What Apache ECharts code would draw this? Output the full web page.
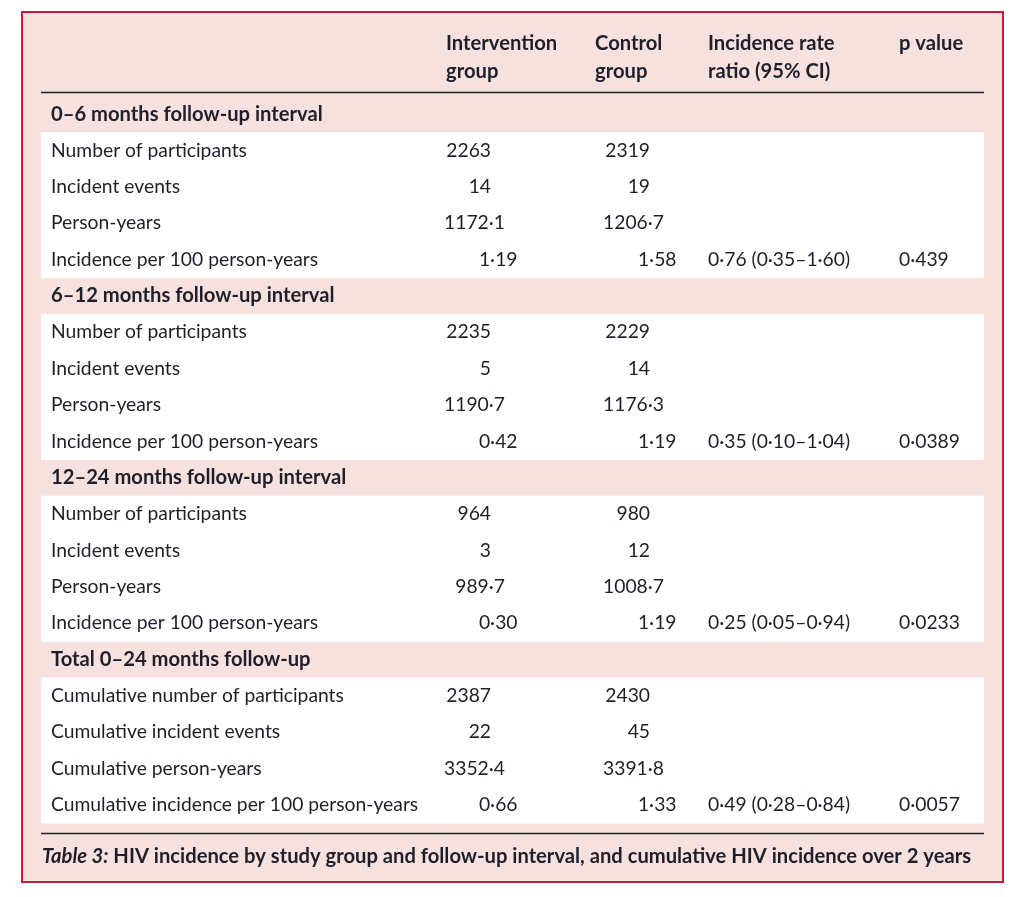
<!DOCTYPE html>
<html><head><meta charset="utf-8">
<script src="https://cdn.jsdelivr.net/npm/echarts@6/dist/echarts.min.js"></script>
<style>html,body{margin:0;padding:0;background:#fff}#c{width:1024px;height:897px}</style>
</head><body><div id="c"></div>
<script>
// ---- data ----
const headers = ["", "Intervention\ngroup", "Control\ngroup", "Incidence rate\nratio (95% CI)", "p value"];
const sections = ["0–6 months follow-up interval", "6–12 months follow-up interval", "12–24 months follow-up interval", "Total 0–24 months follow-up"];
const intervalLabels = ["Number of participants", "Incident events", "Person-years", "Incidence per 100 person-years"];
const totalLabels = ["Cumulative number of participants", "Cumulative incident events", "Cumulative person-years", "Cumulative incidence per 100 person-years"];
const intervention = ["2263", "14", "1172·1", "1·19", "2235", "5", "1190·7", "0·42", "964", "3", "989·7", "0·30", "2387", "22", "3352·4", "0·66"];
const control = ["2319", "19", "1206·7", "1·58", "2229", "14", "1176·3", "1·19", "980", "12", "1008·7", "1·19", "2430", "45", "3391·8", "1·33"];
const rateRatio = ["0·76 (0·35–1·60)", "0·35 (0·10–1·04)", "0·25 (0·05–0·94)", "0·49 (0·28–0·84)"];
const pValues = ["0·439", "0·0389", "0·0233", "0·0057"];
const captionLead = "Table 3:";
const captionText = " HIV incidence by study group and follow-up interval, and cumulative HIV incidence over 2 years";

// ---- build rows ----
const rows = [];
sections.forEach((s, si) => {
  rows.push({ label: s, section: true });
  const labs = si === 3 ? totalLabels : intervalLabels;
  labs.forEach((l, k) => {
    const idx = si * 4 + k;
    rows.push({ label: l, section: false, kind: k, iv: intervention[idx], ct: control[idx],
      rr: k === 3 ? rateRatio[si] : "", p: k === 3 ? pValues[si] : "" });
  });
});

// ---- layout ----
const TXT = '#1f1f2b';
const FONT = 'Lato';
const FS = 19.3;
const FSB = 20.2;
const COL = { label: 51, iv: 491, ct: 650, rr: 708, p: 899 };
const KIND_OFFSET = [0, 0, 14, 26.5];
const BAND_L = 41, BAND_R = 984;

const chart = echarts.init(document.getElementById('c'), null, { renderer: 'canvas' });
function txt(x, y, text, align, bold) {
  return { type: 'text', style: { x: x, y: y, text: text, textAlign: align, textVerticalAlign: 'middle',
    fontFamily: FONT, fontSize: bold ? FSB : FS, fontWeight: bold ? 'bold' : 'normal', fill: TXT } };
}
chart.setOption({
  animation: false,
  grid: { left: 0, right: 0, top: 96, height: 727, containLabel: false },
  xAxis: { type: 'value', min: 0, max: 1024, show: false },
  yAxis: { type: 'category', inverse: true, data: rows.map(r => r.label), show: false },
  graphic: [
    { type: 'rect', z: -10, shape: { x: 22, y: 12, width: 981, height: 870 },
      style: { fill: '#f6e1de', stroke: '#c41a3f', lineWidth: 2 } },
    { type: 'line', shape: { x1: BAND_L, y1: 92.5, x2: BAND_R, y2: 92.5 }, style: { stroke: '#222', lineWidth: 1.6 } },
    { type: 'line', shape: { x1: BAND_L, y1: 833.5, x2: BAND_R, y2: 833.5 }, style: { stroke: '#222', lineWidth: 1.6 } },
    ...headers.map((h, i) => i === 0 ? null : {
      type: 'text', style: { x: [0, 446, 595, 708, 899][i], y: 29, text: h, fontFamily: FONT, fontSize: FSB,
        fontWeight: 'bold', fill: TXT, lineHeight: 28, textVerticalAlign: 'top' } }).filter(Boolean),
    { type: 'text', style: { x: 42, y: 856, textVerticalAlign: 'middle',
      text: '{a|' + captionLead + '}{b|' + captionText + '}',
      rich: { a: { fontFamily: FONT, fontSize: FSB, fontWeight: 'bold', fontStyle: 'italic', fill: TXT },
              b: { fontFamily: FONT, fontSize: FSB, fontWeight: 'bold', fill: TXT } } } }
  ],
  series: [{
    type: 'custom',
    data: rows.map((r, i) => [0, i]),
    renderItem: function (params, api) {
      const i = api.value(1);
      const r = rows[i];
      const y = api.coord([0, i])[1];
      const h = api.size([0, 1])[1];
      const ch = [];
      if (!r.section) {
        ch.push({ type: 'rect', shape: { x: BAND_L, y: y - h / 2, width: BAND_R - BAND_L, height: h + 0.5 },
          style: { fill: '#ffffff' } });
      }
      ch.push(txt(COL.label, y, r.label, 'left', r.section));
      if (!r.section) {
        ch.push(txt(COL.iv + KIND_OFFSET[r.kind], y, r.iv, 'right'));
        ch.push(txt(COL.ct + KIND_OFFSET[r.kind], y, r.ct, 'right'));
        if (r.rr) ch.push(txt(COL.rr, y, r.rr, 'left'));
        if (r.p) ch.push(txt(COL.p, y, r.p, 'left'));
      }
      return { type: 'group', children: ch };
    }
  }]
});
</script></body></html>
